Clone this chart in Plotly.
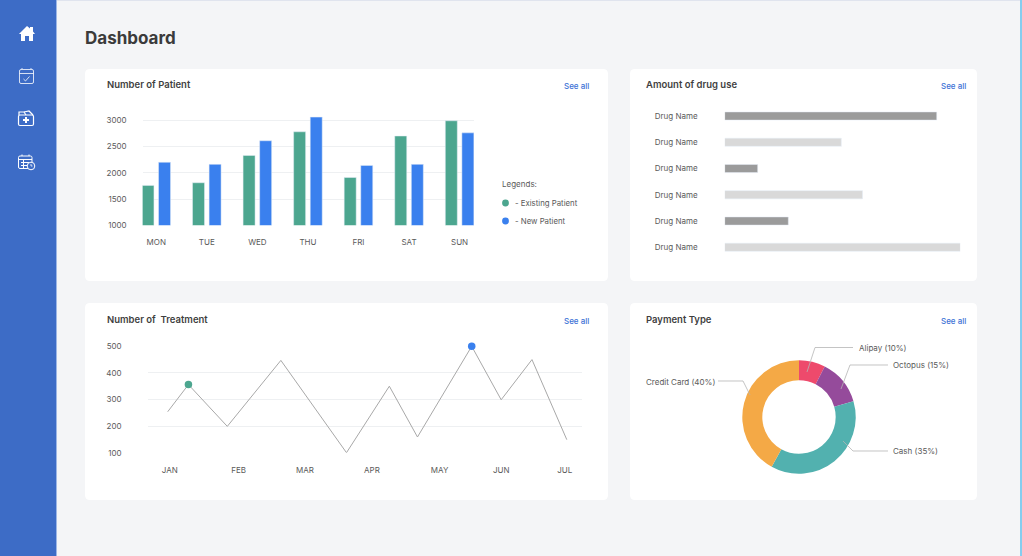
import plotly.graph_objects as go

W = 1022
H = 556

# number of patient
days = ['MON', 'TUE', 'WED', 'THU', 'FRI', 'SAT', 'SUN']
existing_patient = [1760, 1810, 2330, 2780, 1910, 2700, 2990]
new_patient = [2200, 2160, 2610, 3060, 2140, 2160, 2760]
patient_ticks = [1000, 1500, 2000, 2500, 3000]

# amount of drug use
drug_names = ['Drug Name'] * 6
drug_use = [90, 49.5, 14, 58.5, 27, 100]
drug_rows = [0, 1, 2, 3, 4, 5]

# number of treatment
months = ['JAN', 'FEB', 'MAR', 'APR', 'MAY', 'JUN', 'JUL']
month_ticks = [0, 1.03, 2.02, 3.02, 4.03, 4.95, 5.9]
treatment_x = [-0.03, 0.28, 0.86, 1.66, 2.64, 3.28, 3.7, 4.51, 4.95, 5.41, 5.93]
treatment_y = [254, 356, 199, 447, 100, 350, 159, 500, 299, 450, 149]
treatment_ticks = [100, 200, 300, 400, 500]

# payment type
payment_names = ['Alipay', 'Octopus', 'Cash', 'Credit Card']
payment_share = [7.5, 13, 37.5, 42]

GREEN = '#4CA68F'
BLUE = '#3A80EE'
DARK_BAR = '#9B9B9B'
LIGHT_BAR = '#D9D9D9'
GRID = '#EEF0F2'
FONT = 'Inter'


def px(x):
    return x / W


def py(y):
    return 1 - y / H


def path(points, close=True):
    # pixel points -> svg path in paper coords
    d = 'M' + ' L'.join(f'{px(x):.5f},{py(y):.5f}' for x, y in points)
    return d + (' Z' if close else '')


def rounded(x0, y0, x1, y1, r):
    c = lambda x, y: f'{px(x):.5f},{py(y):.5f}'
    return (f'M{c(x0 + r, y0)} L{c(x1 - r, y0)} Q{c(x1, y0)} {c(x1, y0 + r)} '
            f'L{c(x1, y1 - r)} Q{c(x1, y1)} {c(x1 - r, y1)} '
            f'L{c(x0 + r, y1)} Q{c(x0, y1)} {c(x0, y1 - r)} '
            f'L{c(x0, y0 + r)} Q{c(x0, y0)} {c(x0 + r, y0)} Z')


shapes = []


def rect(x0, y0, x1, y1, color):
    shapes.append(dict(type='rect', xref='paper', yref='paper', layer='below',
                       x0=px(x0), x1=px(x1), y0=py(y0), y1=py(y1),
                       fillcolor=color, line_width=0))


def outline(d, width=1.0, color='rgba(255,255,255,0.8)', layer='above'):
    shapes.append(dict(type='path', xref='paper', yref='paper', layer=layer, path=d,
                       line=dict(color=color, width=width)))


def solid(d, color='white'):
    shapes.append(dict(type='path', xref='paper', yref='paper', layer='above', path=d,
                       fillcolor=color, line_width=0))


def dot(cx, cy, r, color, line=None):
    shapes.append(dict(type='circle', xref='paper', yref='paper', layer='above',
                       x0=px(cx - r), x1=px(cx + r), y0=py(cy + r), y1=py(cy - r),
                       fillcolor=color, line=dict(color=line or color, width=1 if line else 0)))


annotations = []


def label(x, y, text, size=8, color='#5A5A5A', weight=400):
    annotations.append(dict(x=px(x - 1), y=py(y), xref='paper', yref='paper', text=text, showarrow=False,
                            xanchor='left', yanchor='middle', borderpad=0,
                            font=dict(family=FONT, size=size, color=color, weight=weight)))


# page
rect(0, 0, 1022, 1, '#E0E4EE')
rect(1020, 0, 1022, 556, '#86CDEF')
rect(0, 0, 56, 556, '#3D6CC6')
rect(56, 0, 57, 556, '#9DB7E6')

# cards
for x0, y0, x1, y1 in [(85, 69, 608, 281), (630, 69, 977, 281), (85, 303, 608, 500), (630, 303, 977, 500)]:
    shapes.append(dict(type='path', xref='paper', yref='paper', layer='below',
                       path=rounded(x0, y0, x1, y1, 5), fillcolor='white', line_width=0))

# sidebar icons
solid(path([(19, 34), (27, 26), (30, 28.5), (30, 27), (33, 27), (33, 31.5), (35, 34), (33, 34), (33, 41),
            (29, 41), (29, 36), (25, 36), (25, 41), (21, 41), (21, 34)]))
outline(rounded(19.5, 69.5, 33.5, 83.5, 1.5))
outline(path([(19.5, 73.5), (33.5, 73.5)], False))
outline(path([(23.5, 79), (25.5, 81), (29.5, 76.5)], False))
outline(path([(22, 69), (22, 68)], False))
outline(path([(31, 69), (31, 68)], False))
outline(rounded(18.5, 115, 33.5, 125.5, 1.5), color='white', width=1.2)
outline(path([(19, 115), (19, 112), (24, 112), (26, 115)], False), color='white', width=1.2)
outline(path([(24, 112), (29, 111), (33, 115)], False), color='white', width=1.2)
solid(path([(25, 117), (27, 117), (27, 119), (29, 119), (29, 121), (27, 121), (27, 123), (25, 123),
            (25, 121), (23, 121), (23, 119), (25, 119)]))
outline(rounded(18.5, 156, 32, 168.5, 1.5), color='white')
outline(path([(18.5, 159.5), (32, 159.5)], False), color='white')
outline(path([(22, 156), (22, 154.5)], False), color='white')
outline(path([(29, 156), (29, 154.5)], False), color='white')
outline(path([(21, 162.5), (29, 162.5)], False), color='white')
outline(path([(21, 165.5), (27, 165.5)], False), color='white')
outline(path([(23.5, 160), (23.5, 168)], False), color='white')
dot(31, 166, 3.8, '#3D6CC6', 'white')
outline(path([(31, 164), (31, 166), (32.5, 166)], False), color='white', width=0.8)

# titles
label(85, 37.5, 'Dashboard', 17, '#3B3B3B', 700)
title_color = '#3F3F3F'
label(107, 84.5, 'Number of Patient', 9.5, title_color, 600)
label(646, 84.5, 'Amount of drug use', 9.5, title_color, 600)
label(107, 319.5, 'Number of  Treatment', 9.5, title_color, 600)
label(646, 319.5, 'Payment Type', 9.5, title_color, 600)
for x, y in [(564, 86), (941, 86), (564, 320.5), (941, 320.5)]:
    label(x, y, 'See all', 8, '#3D72D6', 500)

# legend of the first chart
label(502, 184, 'Legends:')
dot(505.5, 203, 3.4, GREEN)
dot(505.5, 221, 3.4, BLUE)
label(515, 203, '- Existing Patient', 7.8)
label(515, 221, '- New Patient', 7.8)

fig = go.Figure()

# bar chart
fig.add_trace(go.Bar(x=days, y=existing_patient, marker_color=GREEN, name='Existing Patient', xaxis='x', yaxis='y'))
fig.add_trace(go.Bar(x=days, y=new_patient, marker_color=BLUE, name='New Patient', xaxis='x', yaxis='y'))

# drug bars
drug_colors = [DARK_BAR if i % 2 == 0 else LIGHT_BAR for i in drug_rows]
fig.add_trace(go.Bar(x=drug_use, y=drug_rows, orientation='h', marker_color=drug_colors, width=0.31,
                     name='Drug use', xaxis='x2', yaxis='y2'))

# treatment line
fig.add_trace(go.Scatter(x=treatment_x, y=treatment_y, mode='lines', line=dict(color='#A8A8A8', width=1),
                         name='Treatment', xaxis='x3', yaxis='y3', cliponaxis=False))
fig.add_trace(go.Scatter(x=[treatment_x[1]], y=[treatment_y[1]], mode='markers', marker=dict(color=GREEN, size=7.5),
                         xaxis='x3', yaxis='y3', cliponaxis=False))
fig.add_trace(go.Scatter(x=[treatment_x[7]], y=[treatment_y[7]], mode='markers', marker=dict(color=BLUE, size=7.5),
                         xaxis='x3', yaxis='y3', cliponaxis=False))

# donut
cx, cy, r = 799, 417, 56.7
fig.add_trace(go.Pie(labels=payment_names, values=payment_share, hole=0.647, sort=False, direction='clockwise',
                     rotation=0, textinfo='none',
                     marker=dict(colors=['#EE4A6C', '#954B9B', '#52B1AF', '#F4A946'], line_width=0),
                     domain=dict(x=[px(cx - r), px(cx + r)], y=[py(cy + r), py(cy - r)])))

# leader lines for donut labels
leader = '#B5B5B5'
outline(path([(807, 372), (815, 347.5), (853, 347.5)], False), 0.8, leader)
outline(path([(841, 389), (850, 365), (888, 365)], False), 0.8, leader)
outline(path([(843, 441), (853, 451), (888, 451)], False), 0.8, leader)
outline(path([(750, 395), (743, 381), (718, 381)], False), 0.8, leader)
label(859, 347.5, 'Alipay (10%)')
label(893, 365, 'Octopus (15%)')
label(893, 451, 'Cash (35%)')
label(646, 381.5, 'Credit Card (40%)')

tick_font = dict(family=FONT, size=8, color='#5A5A5A')

fig.update_layout(
    width=W, height=H, margin=dict(l=0, r=0, t=0, b=0),
    paper_bgcolor='#F4F5F7', plot_bgcolor='rgba(0,0,0,0)',
    showlegend=False, barmode='group', bargap=0.344, bargroupgap=0.277,
    shapes=shapes, annotations=annotations,
    xaxis=dict(domain=[px(142.6), px(474)], range=[-0.27, 6.285], showgrid=False, showline=False, zeroline=False,
               tickfont=tick_font, ticklabelstandoff=11, anchor='y', automargin=False),
    yaxis=dict(domain=[py(225.3), py(115)], range=[1000, 3100], tickvals=patient_ticks, gridcolor=GRID,
               showline=False, zeroline=False, tickfont=tick_font, ticklabelstandoff=15, anchor='x', automargin=False),
    xaxis2=dict(domain=[px(724.7), px(960.3)], range=[0, 100], visible=False, anchor='y2', automargin=False),
    yaxis2=dict(domain=[py(260.4), py(102.9)], range=[5.5, -0.5], tickvals=drug_rows, ticktext=drug_names,
                showgrid=False, showline=False, zeroline=False, tickfont=tick_font, ticklabelstandoff=26, anchor='x2',
                automargin=False),
    xaxis3=dict(domain=[px(147.6), px(582)], range=[-0.33, 6.157], tickvals=month_ticks, ticktext=months,
                showgrid=False, showline=False, zeroline=False, tickfont=tick_font, ticklabelstandoff=11, anchor='y3',
                automargin=False),
    yaxis3=dict(domain=[py(452.7), py(346.3)], range=[100, 500], tickvals=treatment_ticks, gridcolor=GRID,
                showline=False, zeroline=False, tickfont=tick_font, ticklabelstandoff=25, anchor='x3',
                automargin=False),
)

fig.write_html("out.html", config=dict(displayModeBar=False), post_script="document.body.style.margin='0';")
